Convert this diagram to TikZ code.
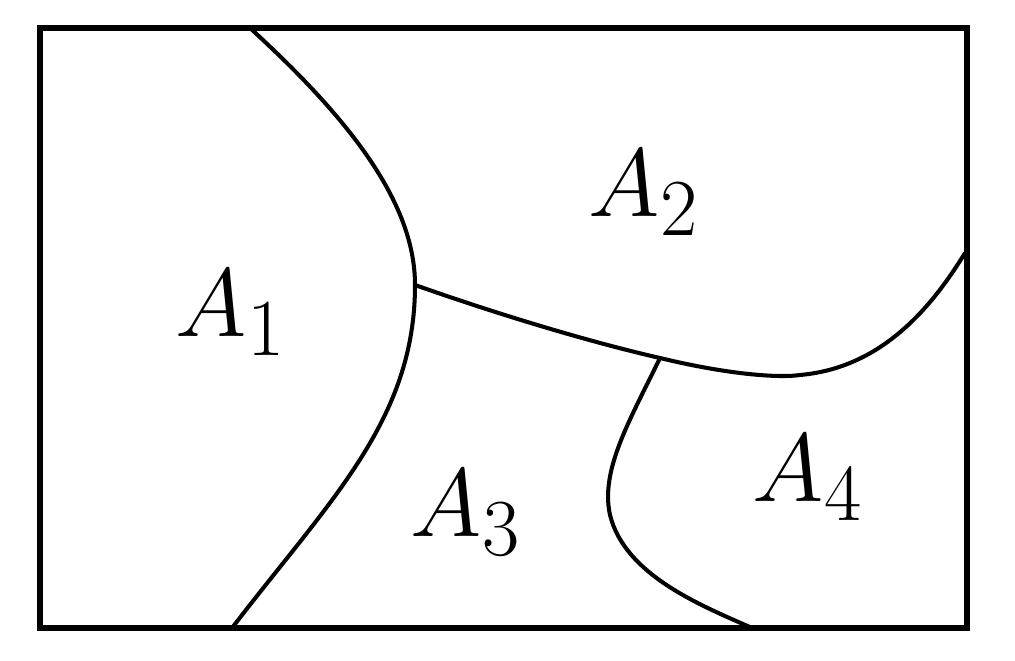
\documentclass[tikz,border=0pt]{standalone}
\begin{document}
\begin{tikzpicture}[x=0.02cm,y=-0.02cm,
  frame/.style={line width=3pt},
  edge/.style={line width=2.3pt},
  region/.style={font=\Huge,scale=2.22,transform shape}]
\useasboundingbox (0,0) rectangle (1015,661);
\draw[frame] (40,28) rectangle (967,628);
\coordinate (t1) at (250,28);
\coordinate (j1) at (415,285);
\coordinate (b1) at (232,628);
\coordinate (j2) at (660,358);
\coordinate (r1) at (965,253);
\coordinate (b2) at (752,628);
\draw[edge] (t1) .. controls (345,115) and (415,200) .. (j1)
  .. controls (415,420) and (330,500) .. (b1);
\draw[edge] (j1) .. controls (500,315) and (590,342) .. (j2)
  .. controls (730,375) and (780,378) .. (800,375)
  .. controls (880,368) and (930,310) .. (r1);
\draw[edge] (j2) .. controls (630,420) and (600,470) .. (610,515)
  .. controls (625,575) and (700,605) .. (b2);
\node[region] (a1) at (231,313) {$A_1$};
\node[region] (a2) at (644,193) {$A_2$};
\node[region] (a3) at (466,513) {$A_3$};
\node[region] (a4) at (808,478) {$A_4$};
\end{tikzpicture}
\end{document}
